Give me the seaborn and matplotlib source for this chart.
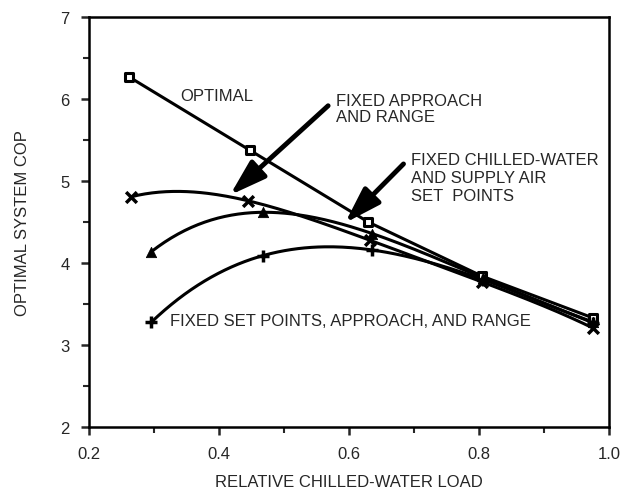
import numpy as np
import pandas as pd
import matplotlib
matplotlib.use('Agg')
import matplotlib.pyplot as plt
import seaborn as sns
from matplotlib.ticker import MultipleLocator

# values
load_optimal = [0.262, 0.447, 0.630, 0.805, 0.976]
cop_optimal = [6.27, 5.38, 4.50, 3.84, 3.33]

load_fixed_ar = [0.265, 0.445, 0.632, 0.805, 0.975]
cop_fixed_ar = [4.81, 4.76, 4.28, 3.77, 3.21]

load_fixed_sp = [0.296, 0.467, 0.636, 0.806, 0.976]
cop_fixed_sp = [4.14, 4.62, 4.36, 3.82, 3.28]

load_fixed_all = [0.296, 0.467, 0.636, 0.806, 0.976]
cop_fixed_all = [3.28, 4.09, 4.16, 3.80, 3.27]

x_ticks = [0.2, 0.4, 0.6, 0.8, 1.0]
y_ticks = [2, 3, 4, 5, 6, 7]


def smooth(x, y, n=200):
    # polynomial through all the points
    coef = np.polyfit(x, y, len(x) - 1)
    xs = np.linspace(min(x), max(x), n)
    return pd.DataFrame({'load': xs, 'cop': np.polyval(coef, xs)})


sns.set_style('ticks')
plt.rcParams['font.family'] = ['Liberation Sans', 'DejaVu Sans']
plt.rcParams['font.size'] = 12

fig = plt.figure(figsize=(6.27, 4.89), dpi=100)
ax = fig.add_axes([0.142, 0.1247, 0.829, 0.838])

lw = 2.2

# optimal: straight segments
df_opt = pd.DataFrame({'load': load_optimal, 'cop': cop_optimal})
sns.lineplot(data=df_opt, x='load', y='cop', ax=ax, color='black', lw=lw)
sns.scatterplot(data=df_opt, x='load', y='cop', ax=ax, marker='s', s=38,
                facecolor='white', edgecolor='black', linewidth=2.2, zorder=5)

# smoothed curves
curves = [
    (load_fixed_ar, cop_fixed_ar, 'x', 60),
    (load_fixed_sp, cop_fixed_sp, '^', 55),
    (load_fixed_all, cop_fixed_all, '+', 80),
]
for lx, ly, mk, ms in curves:
    sns.lineplot(data=smooth(lx, ly), x='load', y='cop', ax=ax, color='black', lw=lw)
    pts = pd.DataFrame({'load': lx, 'cop': ly})
    if mk == '^':
        sns.scatterplot(data=pts, x='load', y='cop', ax=ax, marker=mk, s=ms,
                        color='black', edgecolor='black', zorder=5)
    else:
        sns.scatterplot(data=pts, x='load', y='cop', ax=ax, marker=mk, s=ms,
                        color='black', linewidth=2.5, zorder=5)

ax.set_xlim(0.2, 1.0)
ax.set_ylim(2, 7)
ax.set_xticks(x_ticks)
ax.set_xticklabels([f'{t:.1f}' for t in x_ticks])
ax.set_yticks(y_ticks)
ax.xaxis.set_minor_locator(MultipleLocator(0.1))
ax.yaxis.set_minor_locator(MultipleLocator(0.5))
ax.tick_params(which='major', direction='out', length=6, width=1.8, labelsize=12)
ax.tick_params(axis='x', which='major', pad=8)
ax.tick_params(axis='y', which='major', pad=8)
ax.tick_params(which='minor', direction='out', length=4, width=1.5)
for sp in ax.spines.values():
    sp.set_linewidth(1.8)
    sp.set_color('black')

ax.set_xlabel('RELATIVE CHILLED-WATER LOAD', fontsize=12)
ax.set_ylabel('OPTIMAL SYSTEM COP', fontsize=12)
ax.xaxis.set_label_coords(0.5, -0.115)
ax.yaxis.set_label_coords(-0.113, 0.5)

# annotations
ax.text(0.341, 6.05, 'OPTIMAL', fontsize=12, va='center', ha='left')
ax.text(0.58, 5.89, 'FIXED APPROACH\nAND RANGE', fontsize=12, va='center', ha='left',
        linespacing=1.1)
ax.text(0.696, 5.04, 'FIXED CHILLED-WATER\nAND SUPPLY AIR\nSET  POINTS', fontsize=12,
        va='center', ha='left', linespacing=1.25)
ax.text(0.325, 3.30, 'FIXED SET POINTS, APPROACH, AND RANGE', fontsize=12,
        va='center', ha='left')

arrow = dict(arrowstyle='-|>,head_length=1.1,head_width=0.35', lw=3.5,
             color='black', mutation_scale=20, shrinkA=0, shrinkB=0)
ax.annotate('', xy=(0.417, 4.83), xytext=(0.568, 5.92), arrowprops=arrow)
ax.annotate('', xy=(0.594, 4.49), xytext=(0.684, 5.21), arrowprops=arrow)

fig.savefig('out.png', dpi=100)
